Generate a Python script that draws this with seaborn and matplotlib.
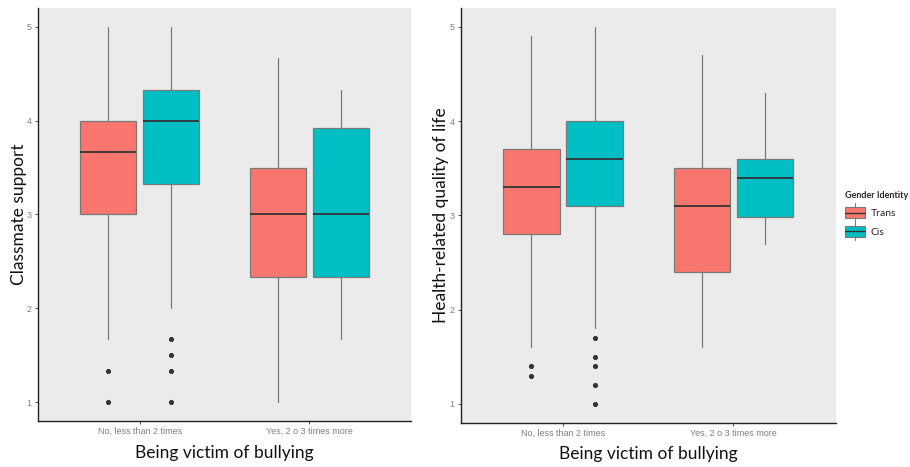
import matplotlib
matplotlib.use("Agg")
import matplotlib.pyplot as plt
import seaborn as sns
from matplotlib.patches import Patch, Rectangle
from matplotlib.lines import Line2D
from matplotlib.legend_handler import HandlerBase

# ---- data ----
categories = ["No, less than 2 times", "Yes, 2 o 3 times more"]
groups = ["Trans", "Cis"]
colors = ["#F8766D", "#00BFC4"]

# Classmate support: [Trans-No, Cis-No, Trans-Yes, Cis-Yes]
cs_whislo = [1.67, 2.0, 1.0, 1.67]
cs_q1 = [3.0, 3.33, 2.33, 2.33]
cs_med = [3.67, 4.0, 3.0, 3.0]
cs_q3 = [4.0, 4.33, 3.5, 3.92]
cs_whishi = [5.0, 5.0, 4.67, 4.33]
cs_fliers = [[1.33, 1.0], [1.67, 1.5, 1.33, 1.0], [], []]

# Health-related quality of life
hq_whislo = [1.6, 1.8, 1.6, 2.7]
hq_q1 = [2.8, 3.1, 2.4, 2.98]
hq_med = [3.3, 3.6, 3.1, 3.4]
hq_q3 = [3.7, 4.0, 3.5, 3.6]
hq_whishi = [4.9, 5.0, 4.7, 4.3]
hq_fliers = [[1.4, 1.3], [1.7, 1.5, 1.4, 1.2, 1.0], [], []]

y_ticks = [1, 2, 3, 4, 5]

sns.set_theme(style="white", rc={"axes.facecolor": "#EBEBEB"})
plt.rcParams["font.family"] = ["Lato", "DejaVu Sans"]

fig = plt.figure(figsize=(9.1, 4.67), dpi=100)
ax1 = fig.add_axes([0.0418, 0.0985, 0.4098, 0.8844])
ax2 = fig.add_axes([0.5063, 0.0949, 0.4121, 0.8880])

offset = 0.185
width = 0.33
edge = "#7a7a7a"


def draw(ax, wl, q1, med, q3, wh, fl, ylabel):
    stats = []
    positions = []
    for i in range(len(wl)):
        cat = i // 2
        g = i % 2
        stats.append(dict(whislo=wl[i], q1=q1[i], med=med[i], q3=q3[i],
                          whishi=wh[i], fliers=fl[i]))
        positions.append(cat + (-offset if g == 0 else offset))
    bp = ax.bxp(stats, positions=positions, widths=width, patch_artist=True,
                showcaps=False, manage_ticks=False,
                boxprops=dict(edgecolor=edge, linewidth=0.9),
                whiskerprops=dict(color=edge, linewidth=0.9),
                medianprops=dict(color="#333333", linewidth=1.3),
                flierprops=dict(marker="o", markersize=2.7,
                                markerfacecolor="#333333",
                                markeredgecolor="#333333"))
    for i, b in enumerate(bp["boxes"]):
        b.set_facecolor(colors[i % 2])
    ax.set_xlim(-0.6, 1.6)
    ax.set_ylim(0.8, 5.2)
    ax.set_xticks(range(len(categories)))
    ax.set_xticklabels(categories, family="Liberation Sans", fontsize=6.5,
                       color="#7f7f7f")
    ax.set_yticks(y_ticks)
    ax.set_yticklabels([str(t) for t in y_ticks], family="Liberation Sans",
                       fontsize=6.5, color="#7f7f7f")
    ax.tick_params(axis="both", length=2.5, width=0.6, color="#333333",
                   pad=2, bottom=True, left=True)
    for s in ["top", "right"]:
        ax.spines[s].set_visible(False)
    for s in ["left", "bottom"]:
        ax.spines[s].set_color("#222222")
        ax.spines[s].set_linewidth(1.0)
    ax.set_xlabel("Being victim of bullying", fontsize=12.5, color="#111111",
                  labelpad=6)
    ax.set_ylabel(ylabel, fontsize=12.5, color="#111111", labelpad=0)


draw(ax1, cs_whislo, cs_q1, cs_med, cs_q3, cs_whishi, cs_fliers,
     "Classmate support")
draw(ax2, hq_whislo, hq_q1, hq_med, hq_q3, hq_whishi, hq_fliers,
     "Health-related quality of life")


class BoxKeyHandler(HandlerBase):
    def create_artists(self, legend, orig_handle, xdescent, ydescent,
                       width, height, fontsize, trans):
        fc = orig_handle.get_facecolor()
        x0, y0 = -xdescent, -ydescent
        cx = x0 + width / 2
        vline = Line2D([cx, cx], [y0 - 0.3 * height, y0 + 1.3 * height],
                       color=edge, lw=0.8, transform=trans)
        rect = Rectangle((x0, y0), width, height, facecolor=fc,
                         edgecolor=edge, lw=0.8, transform=trans)
        hline = Line2D([x0, x0 + width], [y0 + height / 2, y0 + height / 2],
                       color="#333333", lw=1.0, transform=trans)
        return [vline, rect, hline]


handles = [Patch(facecolor=c, edgecolor=edge, linewidth=0.8, label=g)
           for g, c in zip(groups, colors)]
leg = fig.legend(handles=handles, title="Gender Identity",
                 loc="upper left", bbox_to_anchor=(0.918, 0.612),
                 frameon=False, fontsize=7.5, title_fontsize=6.5,
                 handlelength=1.9, handleheight=1.3, handletextpad=0.6,
                 labelspacing=0.7,
                 handler_map={Patch: BoxKeyHandler()})
leg.get_title().set_fontweight("bold")
leg._legend_box.align = "left"

fig.savefig("out.png", dpi=100)
